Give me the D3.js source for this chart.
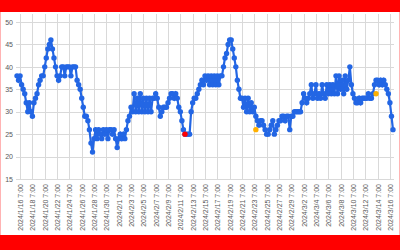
<!DOCTYPE html>
<html>
<head>
<meta charset="utf-8">
<script src="https://cdn.jsdelivr.net/npm/d3@7"></script>
<style>
  html, body { margin: 0; padding: 0; background: #fff; }
  svg { display: block; font-family: "Liberation Sans", Arial, sans-serif; }
</style>
</head>
<body>
<svg width="400" height="250"></svg>
<script>
// readings every 6 hours, starting 2024/1/15 19:00
const startTime = "2024/1/15 19:00";
const stepHours = 6;

const values = [
  38, 37, 38, 36, 35, 34, 32, 30, 32, 30, 29, 32, 33, 34, 36, 37,
  38, 38, 40, 42, 44, 45, 46, 44, 42, 40, 38, 37, 38, 40, 40, 38,
  40, 40, 40, 38, 40, 40, 40, 37, 36, 35, 33, 31, 29, 29, 28, 26,
  23, 21, 24, 26, 24, 26, 25, 24, 26, 25, 26, 24, 26, 26, 25, 26,
  24, 22, 24, 25, 24, 25, 24, 26, 28, 29, 31, 30, 34, 30, 33, 30,
  34, 30, 33, 30, 33, 30, 33, 30, 33, 33, 34, 33, 31, 29, 30, 31,
  31, 31, 32, 33, 34, 34, 33, 34, 33, 31, 30, 28, 26, 25, 25, 25,
  25, 30, 32, 33, 33, 34, 35, 36, 37, 36, 38, 37, 38, 36, 38, 36,
  38, 36, 38, 36, 38, 38, 40, 42, 43, 45, 46, 46, 44, 42, 40, 37,
  35, 33, 33, 31, 33, 30, 33, 30, 32, 30, 31, 29, 28, 27, 28, 28,
  27, 26, 25, 25, 26, 27, 28, 25, 26, 27, 28, 28, 29, 29, 28, 29,
  29, 26, 29, 29, 30, 30, 30, 30, 30, 32, 34, 33, 32, 33, 34, 36,
  33, 34, 36, 33, 34, 33, 36, 34, 33, 36, 34, 36, 34, 36, 34, 38,
  34, 38, 35, 37, 34, 38, 35, 37, 40, 36, 34, 33, 32, 32, 33, 32,
  33, 33, 33, 33, 34, 33, 33, 34, 36, 37, 37, 36, 37, 36, 37, 36,
  35, 34, 32, 29, 26
];

// single flagged readings drawn on top
const redTimes = ["2024/2/12 1:00"];
const redValues = [25];
const orangeTimes = ["2024/2/23 13:00", "2024/3/14 1:00"];
const orangeValues = [26, 34];

const tickLabels = [
  "2024/1/16 7:00", "2024/1/18 7:00", "2024/1/20 7:00", "2024/1/22 7:00",
  "2024/1/24 7:00", "2024/1/26 7:00", "2024/1/28 7:00", "2024/1/30 7:00",
  "2024/2/1 7:00", "2024/2/3 7:00", "2024/2/5 7:00", "2024/2/7 7:00",
  "2024/2/9 7:00", "2024/2/11 7:00", "2024/2/13 7:00", "2024/2/15 7:00",
  "2024/2/17 7:00", "2024/2/19 7:00", "2024/2/21 7:00", "2024/2/23 7:00",
  "2024/2/25 7:00", "2024/2/27 7:00", "2024/2/29 7:00", "2024/3/2 7:00",
  "2024/3/4 7:00", "2024/3/6 7:00", "2024/3/8 7:00", "2024/3/10 7:00",
  "2024/3/12 7:00", "2024/3/14 7:00", "2024/3/16 7:00"
];
const yTicks = [15, 20, 25, 30, 35, 40, 45, 50];

const parse = d3.timeParse("%Y/%m/%d %H:%M");
const t0 = parse(startTime);
const data = values.map((v, i) => ({
  t: d3.timeHour.offset(t0, i * stepHours),
  v: v
}));
const tickDates = tickLabels.map(parse);

const svg = d3.select("svg");

// red frame bands
svg.append("rect").attr("x", 0).attr("y", 0).attr("width", 400).attr("height", 12).attr("fill", "#ff0000");
svg.append("rect").attr("x", 0).attr("y", 235).attr("width", 400).attr("height", 15).attr("fill", "#ff0000");
svg.append("rect").attr("x", 0).attr("y", 12).attr("width", 1).attr("height", 223).attr("fill", "#ffb3b3");
svg.append("rect").attr("x", 399).attr("y", 12).attr("width", 1).attr("height", 223).attr("fill", "#ffb3b3");

const x = d3
  .scaleTime()
  .domain([t0, data[data.length - 1].t])
  .range([17, 393]);
const y = d3.scaleLinear().domain([15, 50]).range([179, 22]);

// grid
const grid = svg.append("g").attr("class", "grid");
grid.selectAll(".hline")
  .data(yTicks)
  .enter()
  .append("line")
  .attr("x1", 16)
  .attr("x2", 394)
  .attr("y1", d => Math.round(y(d)) + 0.5)
  .attr("y2", d => Math.round(y(d)) + 0.5)
  .attr("stroke", "#d9d9d9")
  .attr("stroke-width", 1);
grid.selectAll(".vline")
  .data(tickDates)
  .enter()
  .append("line")
  .attr("x1", d => Math.round(x(d)) + 0.5)
  .attr("x2", d => Math.round(x(d)) + 0.5)
  .attr("y1", 14)
  .attr("y2", 180)
  .attr("stroke", "#d9d9d9")
  .attr("stroke-width", 1);

// y axis labels
const yAxis = svg.append("g")
  .attr("class", "axis axis--y")
  .attr("transform", "translate(16,0)")
  .call(d3.axisLeft(y).tickValues(yTicks).tickSize(0).tickPadding(3));
yAxis.select(".domain").remove();
yAxis.selectAll("text").attr("fill", "#595959").attr("font-size", "7px");

// x axis labels, rotated
const xAxis = svg.append("g")
  .attr("class", "axis axis--x")
  .attr("transform", "translate(0,181)")
  .call(d3.axisBottom(x).tickValues(tickDates).tickSize(0).tickFormat((d, i) => tickLabels[i]));
xAxis.select(".domain").remove();
xAxis.selectAll("text")
  .attr("fill", "#595959")
  .attr("font-size", "7px")
  .attr("transform", "rotate(-90)")
  .attr("text-anchor", "end")
  .attr("x", -3)
  .attr("y", 0)
  .attr("dy", "0.35em");

// series
const line = d3.line().x(d => x(d.t)).y(d => y(d.v));
svg.append("path")
  .datum(data)
  .attr("fill", "none")
  .attr("stroke", "#2366e4")
  .attr("stroke-width", 2.2)
  .attr("d", line);
svg.selectAll(".dot")
  .data(data)
  .enter()
  .append("circle")
  .attr("class", "dot")
  .attr("cx", d => x(d.t))
  .attr("cy", d => y(d.v))
  .attr("r", 2.7)
  .attr("fill", "#2366e4");

svg.selectAll(".red")
  .data(redTimes)
  .enter()
  .append("circle")
  .attr("cx", d => x(parse(d)))
  .attr("cy", (d, i) => y(redValues[i]))
  .attr("r", 2.7)
  .attr("fill", "#ff0000");
svg.selectAll(".orange")
  .data(orangeTimes)
  .enter()
  .append("circle")
  .attr("cx", d => x(parse(d)))
  .attr("cy", (d, i) => y(orangeValues[i]))
  .attr("r", 2.7)
  .attr("fill", "#ffb000");
</script>
</body>
</html>
